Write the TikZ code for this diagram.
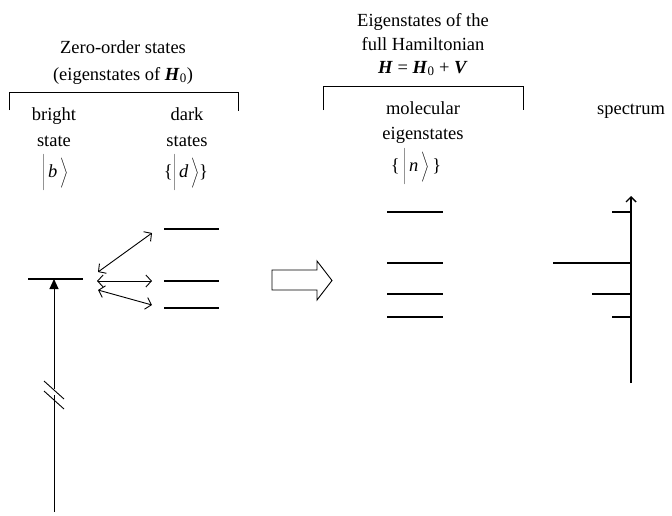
\documentclass[tikz,border=0pt]{standalone}
\usepackage{fontspec}
\setmainfont{Liberation Serif}
\usetikzlibrary{arrows.meta}
\newcommand{\myket}[1]{$\left|\rule[-10pt]{0pt}{32pt}\,\textit{#1}\,\right\rangle$}
\begin{document}
\begin{tikzpicture}[x=1pt,y=-1pt,
  txt/.style={inner sep=0pt,anchor=base,font=\fontsize{18.5}{22}\selectfont},
  level/.style={line width=1.1pt},
  brk/.style={line width=0.9pt},
  dbl/.style={line width=0.9pt,{Straight Barb[length=5.5pt,width=12pt]}-{Straight Barb[length=5.5pt,width=12pt]}},
  ]
\useasboundingbox (0,0) rectangle (672,515);
% titles
\node[txt] (t1) at (123,53) {Zero-order states};
\node[txt] (t2) at (123,80) {(eigenstates of \textbf{\textit{H}}\textsubscript{0})};
\node[txt] (e1) at (423,26) {Eigenstates of the};
\node[txt] (e2) at (423,50) {full Hamiltonian};
\node[txt] (e3) at (423,73) {\textbf{\textit{H}} = \textbf{\textit{H}}\textsubscript{0} + \textbf{\textit{V}}};
% brackets
\draw[brk] (9,110) -- (9,92) -- (238,92) -- (238,111);
\draw[brk] (323,110) -- (323,86) -- (523,86) -- (523,110);
% column labels
\node[txt] (b1) at (54,120) {bright};
\node[txt] (b2) at (54,146) {state};
\node[txt] (b3) at (55,177) {\myket{b}};
\node[txt] (d1) at (187,120) {dark};
\node[txt] (d2) at (187,146) {states};
\node[txt] (d3) at (186,177) {\{\myket{d}\}};
\node[txt] (m1) at (423,114) {molecular};
\node[txt] (m2) at (423,139) {eigenstates};
\node[txt] (m3) at (416,171) {\{\,\myket{n}\,\}};
\node[txt] (sp) at (631,114) {spectrum};
% bright level and excitation arrow
\coordinate (bl1) at (28,279); \coordinate (bl2) at (83,279);
\draw[line width=1.4pt] (bl1) -- (bl2);
\coordinate (bb) at (54,512);
\coordinate (bt) at (54,279);
\coordinate (g1) at (54,389); \coordinate (g2) at (54,395);
\draw[line width=1pt] (bb) -- (g2);
\draw[line width=1pt,-{Triangle[length=10pt,width=9pt]}] (g1) -- (bt);
\draw[line width=0.9pt] (44,381) -- (64,399);
\draw[line width=0.9pt] (44,391) -- (64,409);
% dark levels
\coordinate (da1) at (164,229); \coordinate (da2) at (219,229);
\coordinate (db1) at (164,281); \coordinate (db2) at (219,281);
\coordinate (dc1) at (164,308); \coordinate (dc2) at (219,308);
\draw[level] (da1) -- (da2);
\draw[level] (db1) -- (db2);
\draw[level] (dc1) -- (dc2);
% couplings
\coordinate (c1a) at (98,272); \coordinate (c1b) at (152,233);
\coordinate (c2a) at (97,281); \coordinate (c2b) at (152,281);
\coordinate (c3a) at (98,290); \coordinate (c3b) at (152,305);
\draw[dbl] (c1a) -- (c1b);
\draw[dbl] (c2a) -- (c2b);
\draw[dbl] (c3a) -- (c3b);
% block arrow
\draw[line width=0.9pt] (272,270) -- (317,270) -- (317,261) -- (332,280.5) -- (317,300) -- (317,290) -- (272,290) -- cycle;
% molecular levels
\foreach \y/\n in {212/ma,263/mb,294/mc,317/md}{
  \coordinate (\n1) at (387,\y); \coordinate (\n2) at (443,\y);
  \draw[level] (\n1) -- (\n2);
}
% spectrum
\coordinate (sb) at (631,383); \coordinate (st) at (631,196);
\draw[line width=1.4pt,-{Straight Barb[length=5pt,width=10pt]}] (sb) -- (st);
\coordinate (s1) at (612,212); \coordinate (s1e) at (631,212);
\coordinate (s2) at (553,263); \coordinate (s2e) at (631,263);
\coordinate (s3) at (592,294); \coordinate (s3e) at (631,294);
\coordinate (s4) at (612,317); \coordinate (s4e) at (631,317);
\draw[level] (s1) -- (s1e);
\draw[line width=1.4pt] (s2) -- (s2e);
\draw[level] (s3) -- (s3e);
\draw[line width=1.4pt] (s4) -- (s4e);
\end{tikzpicture}
\end{document}
